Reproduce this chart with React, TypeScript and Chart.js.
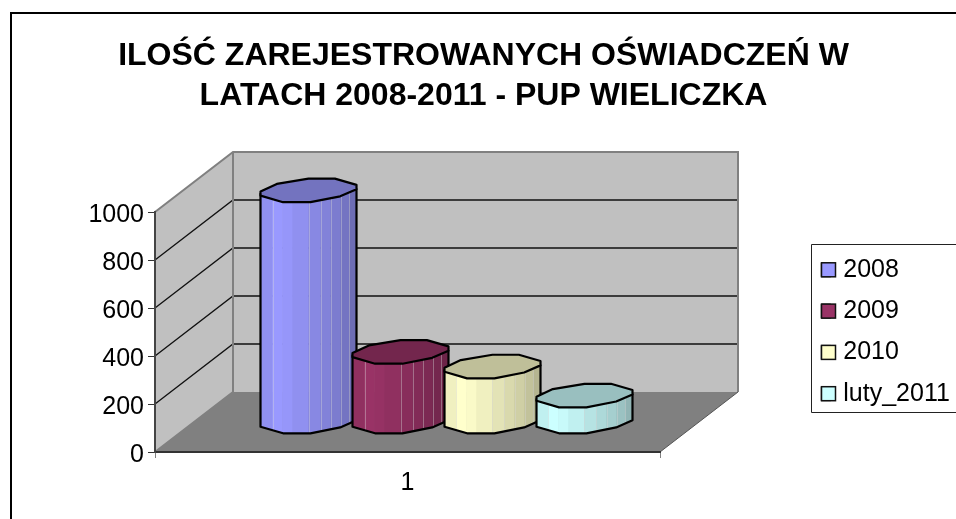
import React, { useEffect, useRef } from "react";
import { Chart, registerables } from "chart.js";

Chart.register(...registerables);

const categories = ["1"];
const seriesNames = ["2008", "2009", "2010", "luty_2011"];
const values2008 = [965];
const values2009 = [292];
const values2010 = [231];
const valuesLuty2011 = [110];
const seriesValues = [values2008, values2009, values2010, valuesLuty2011];
const seriesColors = ["#9999FF", "#993366", "#FFFFCC", "#CCFFFF"];
const yTickValues = [0, 200, 400, 600, 800, 1000];

const FONT = "'Liberation Sans', Arial, sans-serif";
const DX = 78;
const DY = 60;

// Prism outline as fractions of half width / half ellipse height
const FRONT: [number, number][] = [[-1, 0.1], [-1, 0.44], [-0.53, 1], [0.04, 1], [0.66, 0.5], [1, -0.1]];
const BACK: [number, number][] = [[1, -0.47], [0.55, -1], [0, -1], [-0.66, -0.55]];
const BAND_EDGES = [-1, -0.75, -0.54, -0.33, 0, 0.25, 0.46, 0.67, 0.85, 1];
const BAND_SHADE = [0.94, 1, 0.98, 0.94, 0.89, 0.85, 0.81, 0.76, 0.71];
const EDGE_LINES = [1, 4, 5, 6, 7, 8];

function shade(hex: string, k: number) {
  const n = parseInt(hex.slice(1), 16);
  const f = (v: number) => Math.round(v * k);
  return `rgb(${f((n >> 16) & 255)},${f((n >> 8) & 255)},${f(n & 255)})`;
}

const scene = {
  id: "scene",
  beforeDraw(chart: any) {
    const { ctx, scales } = chart;
    const y = scales.y;
    const x0 = scales.x.left;
    const x1 = scales.x.right;
    const y0 = y.getPixelForValue(0);
    const yT = y.getPixelForValue(1000);
    ctx.save();
    ctx.fillStyle = "#fff";
    ctx.fillRect(0, 0, chart.width, chart.height);
    // outer frame
    ctx.strokeStyle = "#000";
    ctx.lineWidth = 2;
    ctx.beginPath();
    ctx.moveTo(11, 519);
    ctx.lineTo(11, 13);
    ctx.lineTo(956, 13);
    ctx.stroke();
    // walls
    ctx.fillStyle = "#C0C0C0";
    ctx.beginPath();
    ctx.moveTo(x0, y0);
    ctx.lineTo(x0, yT);
    ctx.lineTo(x0 + DX, yT - DY);
    ctx.lineTo(x1 + DX, yT - DY);
    ctx.lineTo(x1 + DX, y0 - DY);
    ctx.lineTo(x0 + DX, y0 - DY);
    ctx.closePath();
    ctx.fill();
    // floor
    ctx.fillStyle = "#808080";
    ctx.beginPath();
    ctx.moveTo(x0, y0);
    ctx.lineTo(x1, y0);
    ctx.lineTo(x1 + DX, y0 - DY);
    ctx.lineTo(x0 + DX, y0 - DY);
    ctx.closePath();
    ctx.fill();
    // gridlines
    ctx.strokeStyle = "#111";
    ctx.lineWidth = 1.3;
    for (const v of yTickValues) {
      if (v === 0 || v === 1000) continue;
      const p = y.getPixelForValue(v);
      ctx.beginPath();
      ctx.moveTo(x0, p);
      ctx.lineTo(x0 + DX, p - DY);
      ctx.lineTo(x1 + DX, p - DY);
      ctx.stroke();
    }
    // wall edges
    ctx.strokeStyle = "#808080";
    ctx.lineWidth = 2;
    ctx.beginPath();
    ctx.moveTo(x0, yT);
    ctx.lineTo(x0 + DX, yT - DY);
    ctx.lineTo(x1 + DX, yT - DY);
    ctx.lineTo(x1 + DX, y0 - DY);
    ctx.moveTo(x0 + DX, yT - DY);
    ctx.lineTo(x0 + DX, y0 - DY);
    ctx.lineTo(x0, y0);
    ctx.stroke();
    ctx.strokeStyle = "#555";
    ctx.lineWidth = 1;
    ctx.beginPath();
    ctx.moveTo(x1, y0);
    ctx.lineTo(x1 + DX, y0 - DY);
    ctx.stroke();
    ctx.restore();
  },
  afterLayout(chart: any) {
    const t = chart.titleBlock;
    t.left = 0;
    t.right = 967;
    t.top = 36;
    t.bottom = 116;
    const l = chart.legend;
    l.left = 805;
    l.right = 956;
    l.top = 241;
    l.bottom = 480;
  },
  beforeDatasetsDraw(chart: any) {
    const { ctx } = chart;
    chart.data.datasets.forEach((ds: any, i: number) => {
      const bar = chart.getDatasetMeta(i).data[0] as any;
      const color = ds.backgroundColor as string;
      const hw = bar.width / 2;
      const ry = 11.8;
      const cx = bar.x + DX / 2;
      const topY = bar.y - DY / 2;
      const botY = bar.base - DY / 2;
      ctx.save();
      ctx.lineJoin = "round";
      // body
      const body = new Path2D();
      FRONT.forEach(([a, b], k) => {
        const px = cx + a * hw;
        const py = botY + b * ry;
        if (k === 0) body.moveTo(px, py);
        else body.lineTo(px, py);
      });
      body.lineTo(cx + hw, topY - 0.1 * ry);
      body.lineTo(cx - hw, topY + 0.3 * ry);
      body.closePath();
      ctx.save();
      ctx.clip(body);
      const yA = topY - 2 * ry;
      const h = botY + 2 * ry - yA;
      BAND_SHADE.forEach((s, k) => {
        const xa = cx + BAND_EDGES[k] * hw;
        const xb = cx + BAND_EDGES[k + 1] * hw;
        ctx.fillStyle = shade(color, s);
        ctx.fillRect(xa - 0.3, yA, xb - xa + 0.6, h);
      });
      ctx.strokeStyle = "rgba(215,215,215,0.4)";
      ctx.lineWidth = 1;
      EDGE_LINES.forEach((k) => {
        const xe = Math.round(cx + BAND_EDGES[k] * hw) + 0.5;
        ctx.beginPath();
        ctx.moveTo(xe, yA);
        ctx.lineTo(xe, yA + h);
        ctx.stroke();
      });
      ctx.restore();
      ctx.strokeStyle = "#000";
      ctx.lineWidth = 2.2;
      ctx.stroke(body);
      // cap
      const cap = new Path2D();
      [...FRONT, ...BACK].forEach(([a, b], k) => {
        const px = cx + a * hw;
        const py = topY + b * ry;
        if (k === 0) cap.moveTo(px, py);
        else cap.lineTo(px, py);
      });
      cap.closePath();
      ctx.fillStyle = shade(color, 0.75);
      ctx.fill(cap);
      ctx.stroke(cap);
      ctx.restore();
    });
    return false;
  },
  afterDraw(chart: any) {
    const { ctx } = chart;
    const l = chart.legend;
    ctx.save();
    // legend frame, open on the right where the picture is cut off
    ctx.strokeStyle = "#222";
    ctx.lineWidth = 1;
    ctx.beginPath();
    ctx.moveTo(956, 244.5);
    ctx.lineTo(811.5, 244.5);
    ctx.lineTo(811.5, 412.5);
    ctx.lineTo(956, 412.5);
    ctx.stroke();
    const pad = l.options.labels.padding;
    const fs = l.options.labels.font.size;
    l.legendItems.forEach((it: any, i: number) => {
      const y = l.top + pad + i * (fs + pad) + (fs - 14) / 2;
      ctx.fillStyle = it.fillStyle;
      ctx.fillRect(821.5, y, 14, 14);
      ctx.strokeStyle = "#111";
      ctx.lineWidth = 1.5;
      ctx.strokeRect(821.5, y, 14, 14);
    });
    ctx.restore();
  },
};

export default function App() {
  const ref = useRef<HTMLCanvasElement>(null);
  useEffect(() => {
    const chart = new Chart(ref.current as HTMLCanvasElement, {
      type: "bar",
      data: {
        labels: categories,
        datasets: seriesNames.map((name, i) => ({
          label: name,
          data: seriesValues[i],
          backgroundColor: seriesColors[i],
          borderColor: "#000",
          borderWidth: 1,
          categoryPercentage: 0.7287,
          barPercentage: 1.0435,
        })),
      },
      options: {
        animation: false,
        responsive: false,
        devicePixelRatio: 1,
        layout: { padding: { left: 90, right: 296, top: 132, bottom: 0 } },
        plugins: {
          tooltip: { enabled: false },
          title: {
            display: true,
            text: ["ILOŚĆ ZAREJESTROWANYCH OŚWIADCZEŃ W", "LATACH 2008-2011 - PUP WIELICZKA"],
            color: "#000",
            font: { family: FONT, size: 32, weight: "bold", lineHeight: 1.25 },
            padding: 0,
          },
          legend: {
            display: true,
            position: "chartArea",
            align: "start",
            labels: {
              color: "#000",
              font: { family: FONT, size: 25 },
              boxWidth: 9.5,
              boxHeight: 14,
              padding: 16.3,
            },
          },
        },
        scales: {
          x: {
            grid: {
              drawOnChartArea: false,
              drawTicks: true,
              tickLength: 6,
              color: "#808080",
            },
            border: { color: "#333", width: 2 },
            ticks: { color: "#000", padding: 10, font: { family: FONT, size: 25 } },
            afterFit(s: any) {
              s.height = 67;
            },
          },
          y: {
            min: 0,
            max: 1000,
            grid: { drawOnChartArea: false, drawTicks: true, tickLength: 7, color: "#333" },
            border: { color: "#444", width: 2 },
            ticks: {
              color: "#000",
              padding: 4,
              labelOffset: 3.5,
              font: { family: FONT, size: 25 },
              callback: (v: any) => String(v),
            },
            afterBuildTicks(s: any) {
              s.ticks = yTickValues.map((value) => ({ value }));
            },
            afterFit(s: any) {
              s.width = 65;
            },
          },
        },
      },
      plugins: [scene],
    } as any);
    return () => chart.destroy();
  }, []);
  return (
    <div style={{ position: "fixed", left: 0, top: 0, width: 956, height: 519 }}>
      <canvas ref={ref} width={956} height={519} style={{ display: "block" }} />
    </div>
  );
}
